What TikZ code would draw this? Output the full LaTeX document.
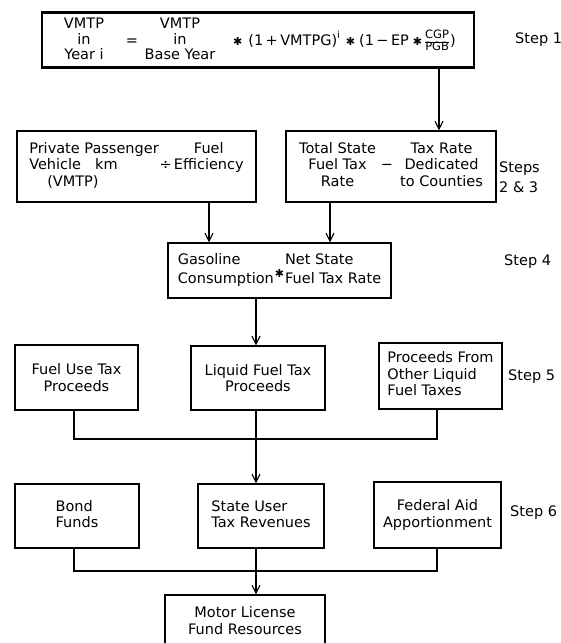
\documentclass[tikz,border=0pt]{standalone}
\usepackage{fontspec}
\usepackage{amsmath}
\setmainfont{DejaVu Sans}
\usetikzlibrary{shapes,arrows,arrows.meta,positioning,calc}

\tikzset{
  blk/.style={draw, rectangle, line width=1.3pt, inner sep=0pt, align=center},
  wire/.style={line width=1.1pt},
  steplbl/.style={align=left, inner sep=0pt, anchor=west},
}
\newcommand{\tms}{{\fontsize{11}{11}\selectfont ✱}}
\newcommand{\frc}[2]{{\fontsize{11.5}{12}\selectfont\renewcommand\arraystretch{0.95}%
  \begin{tabular}{@{}c@{}}#1\\\hline #2\end{tabular}}}

\begin{document}
\begin{tikzpicture}[x=1pt, y=-1pt, font=\fontsize{14.5}{16.5}\selectfont,
    >={Straight Barb[length=8pt,width=8pt]}]
\useasboundingbox (0,0) rectangle (561,643);

% Step 1: growth of VMTP
\node[blk, line width=2.4pt, minimum width=432pt, minimum height=55pt] (eq) at (258,40) {};
\node[font=\fontsize{14.5}{14.5}\selectfont] (yi) at (84,41)
  {\begin{tabular}{@{}c@{}}VMTP\\in\\Year i\end{tabular}};
\node (eqs) at (132,42) {=};
\node[font=\fontsize{14.5}{14.5}\selectfont] (by) at (180,41)
  {\begin{tabular}{@{}c@{}}VMTP\\in\\Base Year\end{tabular}};
\node[anchor=west, inner sep=0pt] (gr) at (233,42)
  {\tms\hspace{6pt}(1\,+\,VMTPG)\raisebox{7pt}{\fontsize{10}{10}\selectfont i}\hspace{6pt}\tms\hspace{4pt}%
   (1\,−\,EP\hspace{4pt}\tms\hspace{3pt}\frc{CGP}{PGB}\hspace{1pt})};
\node[steplbl] (s1) at (515,40) {Step 1};

% Steps 2 and 3
\node[blk, minimum width=239pt, minimum height=71pt] (vkm) at (136.5,166.5)
  {\begin{tabular}{@{}l@{\hspace{1pt}}c@{\hspace{2pt}}c@{}}Private Passenger&&Fuel\\
   Vehicle\hspace{14pt}km&÷&Efficiency\\\hspace{18pt}(VMTP)&&\end{tabular}};
\node[blk, minimum width=210pt, minimum height=71pt] (rate) at (391,166.5)
  {\begin{tabular}{@{}c@{\hspace{5pt}}c@{\hspace{7pt}}c@{}}Total State&&Tax Rate\\
   Fuel Tax&−&Dedicated\\Rate&&to Counties\end{tabular}};
\node[steplbl, font=\fontsize{14.5}{20}\selectfont] (s23) at (499,177) {Steps\\2 \& 3};

% Step 4
\node[blk, minimum width=223pt, minimum height=55pt] (gas) at (279.5,270.5)
  {\begin{tabular}{@{}l@{\hspace{1pt}}c@{\hspace{1pt}}l@{}}Gasoline&&Net State\\
   Consumption&\raisebox{6pt}{\tms}&Fuel Tax Rate\end{tabular}};
\node[steplbl] (s4) at (504,262) {Step 4};

% Step 5
\node[blk, minimum width=123pt, minimum height=65pt] (fut) at (76.5,377.5)
  {Fuel Use Tax\\Proceeds};
\node[blk, minimum width=134pt, minimum height=64pt] (lft) at (258,378)
  {Liquid Fuel Tax\\Proceeds};
\node[blk, minimum width=123pt, minimum height=66pt] (oth) at (440.5,376)
  {\begin{tabular}{@{}l@{}}Proceeds From\\Other Liquid\\Fuel Taxes\end{tabular}};
\node[steplbl] (s5) at (508,377) {Step 5};

% Step 6
\node[blk, minimum width=124pt, minimum height=64pt] (bond) at (77,516)
  {\begin{tabular}{@{}l@{}}Bond\\Funds\end{tabular}};
\node[blk, minimum width=126pt, minimum height=64pt] (sut) at (261,516)
  {\begin{tabular}{@{}l@{}}State User\\Tax Revenues\end{tabular}};
\node[blk, minimum width=127pt, minimum height=66pt] (fed) at (437.5,515)
  {Federal Aid\\Apportionment};
\node[steplbl] (s6) at (510,513) {Step 6};

\node[blk, minimum width=160pt, minimum height=51pt] (mlf) at (245,620.5)
  {Motor License\\Fund Resources};

% connector columns and merge levels
\coordinate (xa) at (439,0);
\coordinate (xb) at (209,0);
\coordinate (xc) at (330,0);
\coordinate (xd) at (256,0);
\coordinate (xe) at (74,0);
\coordinate (xf) at (437,0);
\coordinate (m5) at (0,439);
\coordinate (m6) at (0,571);

\draw[wire,->] (eq.south -| xa) -- (rate.north -| xa);
\draw[wire,->] (vkm.south -| xb) -- (gas.north -| xb);
\draw[wire,->] (rate.south -| xc) -- (gas.north -| xc);
\draw[wire,->] (gas.south -| xd) -- (lft.north -| xd);

\draw[wire] (fut.south -| xe) |- (m5 -| xf) -- (oth.south -| xf);
\draw[wire,->] (lft.south -| xd) -- (sut.north -| xd);

\draw[wire] (bond.south -| xe) |- (m6 -| xf) -- (fed.south -| xf);
\draw[wire,->] (sut.south -| xd) -- (mlf.north -| xd);
\end{tikzpicture}
\end{document}
